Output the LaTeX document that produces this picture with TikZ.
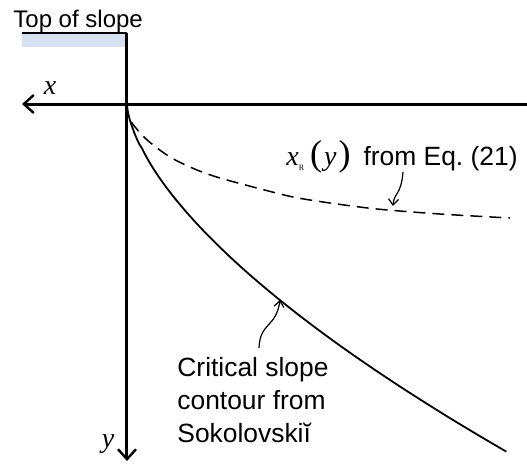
\documentclass[tikz,border=0pt]{standalone}
\usepackage{fontspec}
\setmainfont{Liberation Serif}
\setsansfont{Liberation Sans}
\usetikzlibrary{arrows.meta}
\definecolor{slopefill}{RGB}{214,224,240}

\begin{document}
\begin{tikzpicture}[x=0.5pt,y=-0.5pt,
    axis/.style={line width=1.5pt,-{Straight Barb[length=5pt,width=9pt,line width=1.2pt]}},
    pointer/.style={line width=0.6pt,-{Straight Barb[length=3pt,width=5pt]}},
    lbl/.style={font=\sffamily\fontsize{13.2}{16.3}\selectfont,inner sep=0pt},
    varlbl/.style={font=\rmfamily\itshape\fontsize{14}{16}\selectfont,inner sep=0pt}]
\useasboundingbox (0,0) rectangle (527,463);

\coordinate (o) at (127,104);
\coordinate (xstart) at (527,104);
\coordinate (xend) at (22,104);
\coordinate (ytop) at (127,33);
\coordinate (yend) at (127,461);
\coordinate (ledge) at (22,33);

\fill[slopefill] (22,34) rectangle (126,47);
\draw[line width=0.8pt] (ledge) -- (ytop);
\draw[axis] (xstart) -- (xend);
\draw[axis] (ytop) -- (yend);

\node[lbl,anchor=base west] (top) at (13,27) {\fontsize{12}{14}\selectfont Top of slope};
\node[varlbl] (xlab) at (50,88) {x};
\node[varlbl] (ylab) at (108,444) {y};

\draw[line width=0.9pt] (o) -- plot[domain=0.002:1,samples=80,smooth] ({127+380*\x^1.587},{104+348*\x});
\draw[line width=0.75pt,dash pattern=on 6pt off 3.5pt] plot[smooth] coordinates {(127,104) (128,117) (145,138) (170,157) (197,170) (220,178) (257,188) (293,197) (330,203) (377,209) (440,214) (510,218)};

\node[lbl,anchor=base west] (eqlab) at (286,165) {\frenchspacing{\rmfamily\itshape\fontsize{14}{16}\selectfont x}\raisebox{-2.5pt}{\rmfamily\fontsize{4}{4}\selectfont R}\hspace{3pt}{\rmfamily\fontsize{18}{18}\selectfont(\hspace{1pt}{\itshape\fontsize{14}{16}\selectfont y}\hspace{1pt})}\hspace{6.5pt}from Eq. (21)};
\node[lbl,anchor=base west,align=left] (critlab) at (177,442) {Critical slope\\contour from\\Sokolovski\u{\i}};

\coordinate (dtail) at (403,172);
\coordinate (dtip) at (393,206);
\coordinate (ctail) at (259,348);
\coordinate (ctip) at (280,300);
\draw[pointer] (dtail) .. controls (401,196) and (394,192) .. (dtip);
\draw[pointer] (ctail) .. controls (260,322) and (276,328) .. (ctip);
\end{tikzpicture}
\end{document}
